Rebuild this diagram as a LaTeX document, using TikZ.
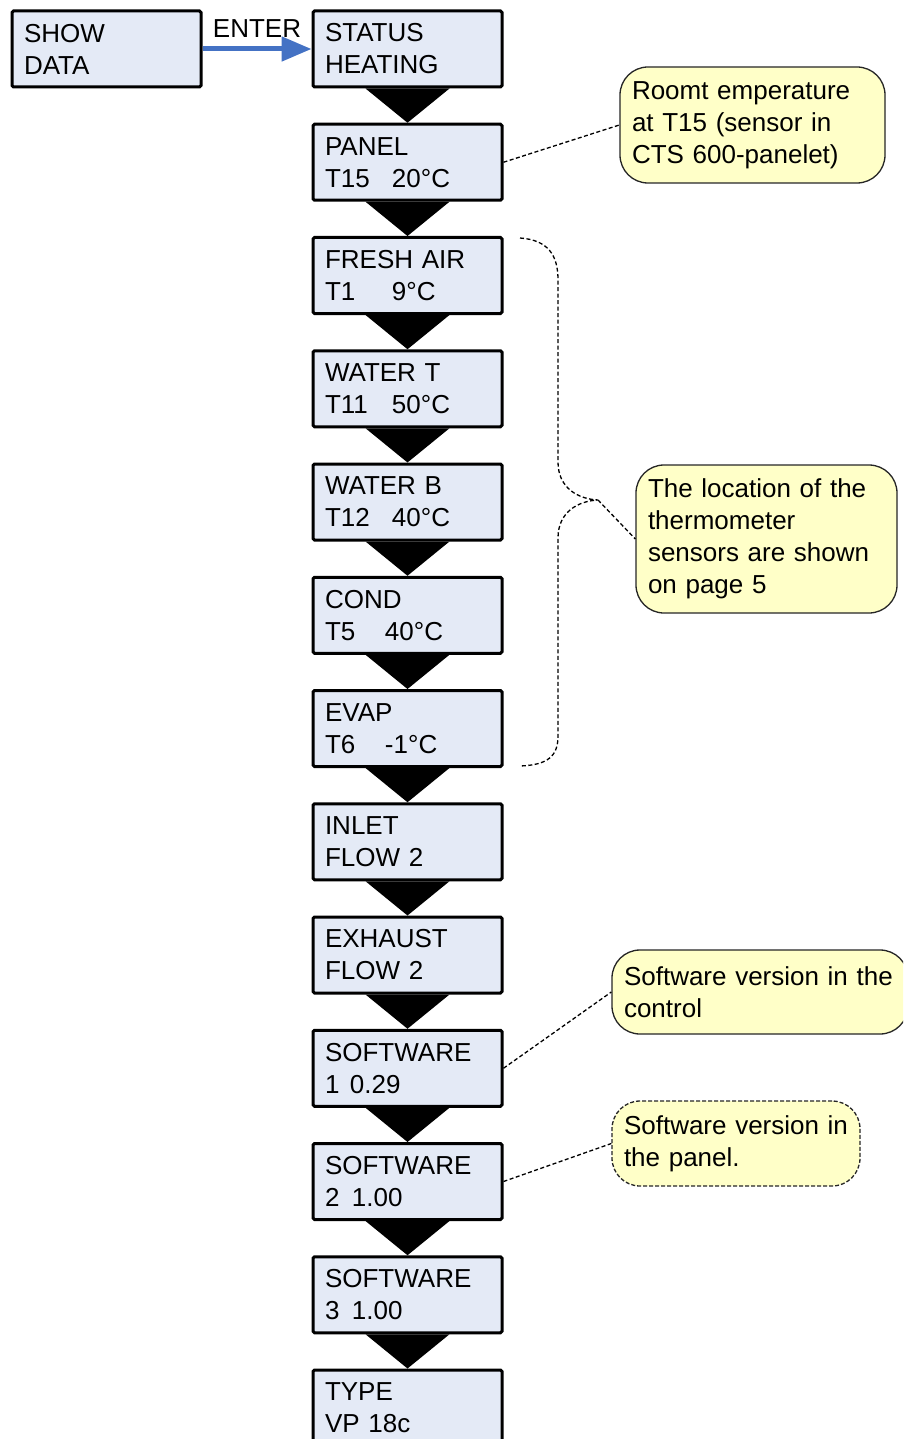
\documentclass[tikz,border=0pt]{standalone}
\usepackage{fontspec}
\setmainfont{Liberation Sans}
\usetikzlibrary{arrows.meta,calc}
\definecolor{boxfill}{RGB}{228,234,246}
\definecolor{notefill}{RGB}{255,255,200}
\definecolor{arrowblue}{RGB}{68,114,196}
\begin{document}
\begin{tikzpicture}[x=1pt,y=-1pt,
  every node/.style={font=\fontsize{26}{32}\selectfont},
  scrbox/.style={draw=black,line width=3pt,fill=boxfill,rounded corners=1.5pt,
    minimum width=189pt,minimum height=76pt,text width=165pt,align=left,
    inner xsep=12pt,inner ysep=0pt},
  note/.style={draw=black!85,line width=1.3pt,fill=notefill,rounded corners=28pt,
    align=left,inner xsep=12pt,inner ysep=0pt},
  leader/.style={draw=black,line width=1.3pt,dash pattern=on 4pt off 2.5pt},
  pointer/.style={fill=black}]
\clip (0,0) rectangle (903,1439);
% boxes
\node[scrbox] (s0) at (106.5,49) {SHOW\\DATA};
\node[scrbox] (b0) at (407.5,49) {STATUS\\HEATING};
\node[scrbox] (b1) at (407.5,162.25) {PANEL\\\makebox[67pt][l]{T15}20°C};
\node[scrbox] (b2) at (407.5,275.5) {FRESH AIR\\\makebox[67pt][l]{T1}9°C};
\node[scrbox] (b3) at (407.5,388.75) {WATER T\\\makebox[67pt][l]{T11}50°C};
\node[scrbox] (b4) at (407.5,502) {WATER B\\\makebox[67pt][l]{T12}40°C};
\node[scrbox] (b5) at (407.5,615.25) {COND\\\makebox[60pt][l]{T5}40°C};
\node[scrbox] (b6) at (407.5,728.5) {EVAP\\\makebox[60pt][l]{T6}-1°C};
\node[scrbox] (b7) at (407.5,841.75) {INLET\\FLOW 2};
\node[scrbox] (b8) at (407.5,955) {EXHAUST\\FLOW 2};
\node[scrbox] (b9) at (407.5,1068.25) {SOFTWARE\\\makebox[25pt][l]{1}0.29};
\node[scrbox] (b10) at (407.5,1181.5) {SOFTWARE\\\makebox[27pt][l]{2}1.00};
\node[scrbox] (b11) at (407.5,1294.75) {SOFTWARE\\\makebox[27pt][l]{3}1.00};
\node[scrbox] (b12) at (407.5,1408) {TYPE\\VP 18c};
% pointers between boxes
\foreach \i [count=\j from 1] in {0,...,11}{
  \fill[pointer] ($(b\i.south)+(-42,0)$) -- ($(b\i.south)+(42,0)$) -- (b\j.north) -- cycle;
}
% enter arrow
\node (enter) at (257,29) {ENTER};
\draw[arrowblue,line width=5pt,-{Triangle[length=30pt,width=24pt]}] (s0.east) -- (b0.west);
% notes
\node[note,minimum width=265pt,minimum height=116pt,text width=241pt] (c1) at (752.5,125)
  {Roomt emperature\\at T15 (sensor in\\CTS 600-panelet)};
\node[note,minimum width=261pt,minimum height=148pt,text width=237pt] (c2) at (766.5,539)
  {The location of the\\thermometer\\sensors are shown\\on page 5};
\node[note,minimum width=296pt,minimum height=84pt,text width=272pt] (c3) at (760,992)
  {Software version in the\\control};
\node[note,dashed,dash pattern=on 4pt off 2pt,minimum width=248pt,minimum height=85pt,text width=224pt] (c4) at (736,1143.5)
  {Software version in\\the panel.};
% leaders
\draw[leader] (b1.east) -- (c1.west);
\draw[leader] (b9.east) -- (c3.west);
\draw[leader] (b10.east) -- (c4.west);
% brace
\coordinate (bt) at (520,238);
\coordinate (bb) at (520,766);
\coordinate (tip) at (598,500);
\draw[leader] (bt) .. controls (548,240) and (558,255) .. (558,280) -- (558,462)
  .. controls (558,488) and (578,499) .. (tip)
  .. controls (578,501) and (558,512) .. (558,538) -- (558,736)
  .. controls (558,756) and (548,765) .. (bb);
\draw[leader] (tip) -- (c2.west);
\end{tikzpicture}
\end{document}
